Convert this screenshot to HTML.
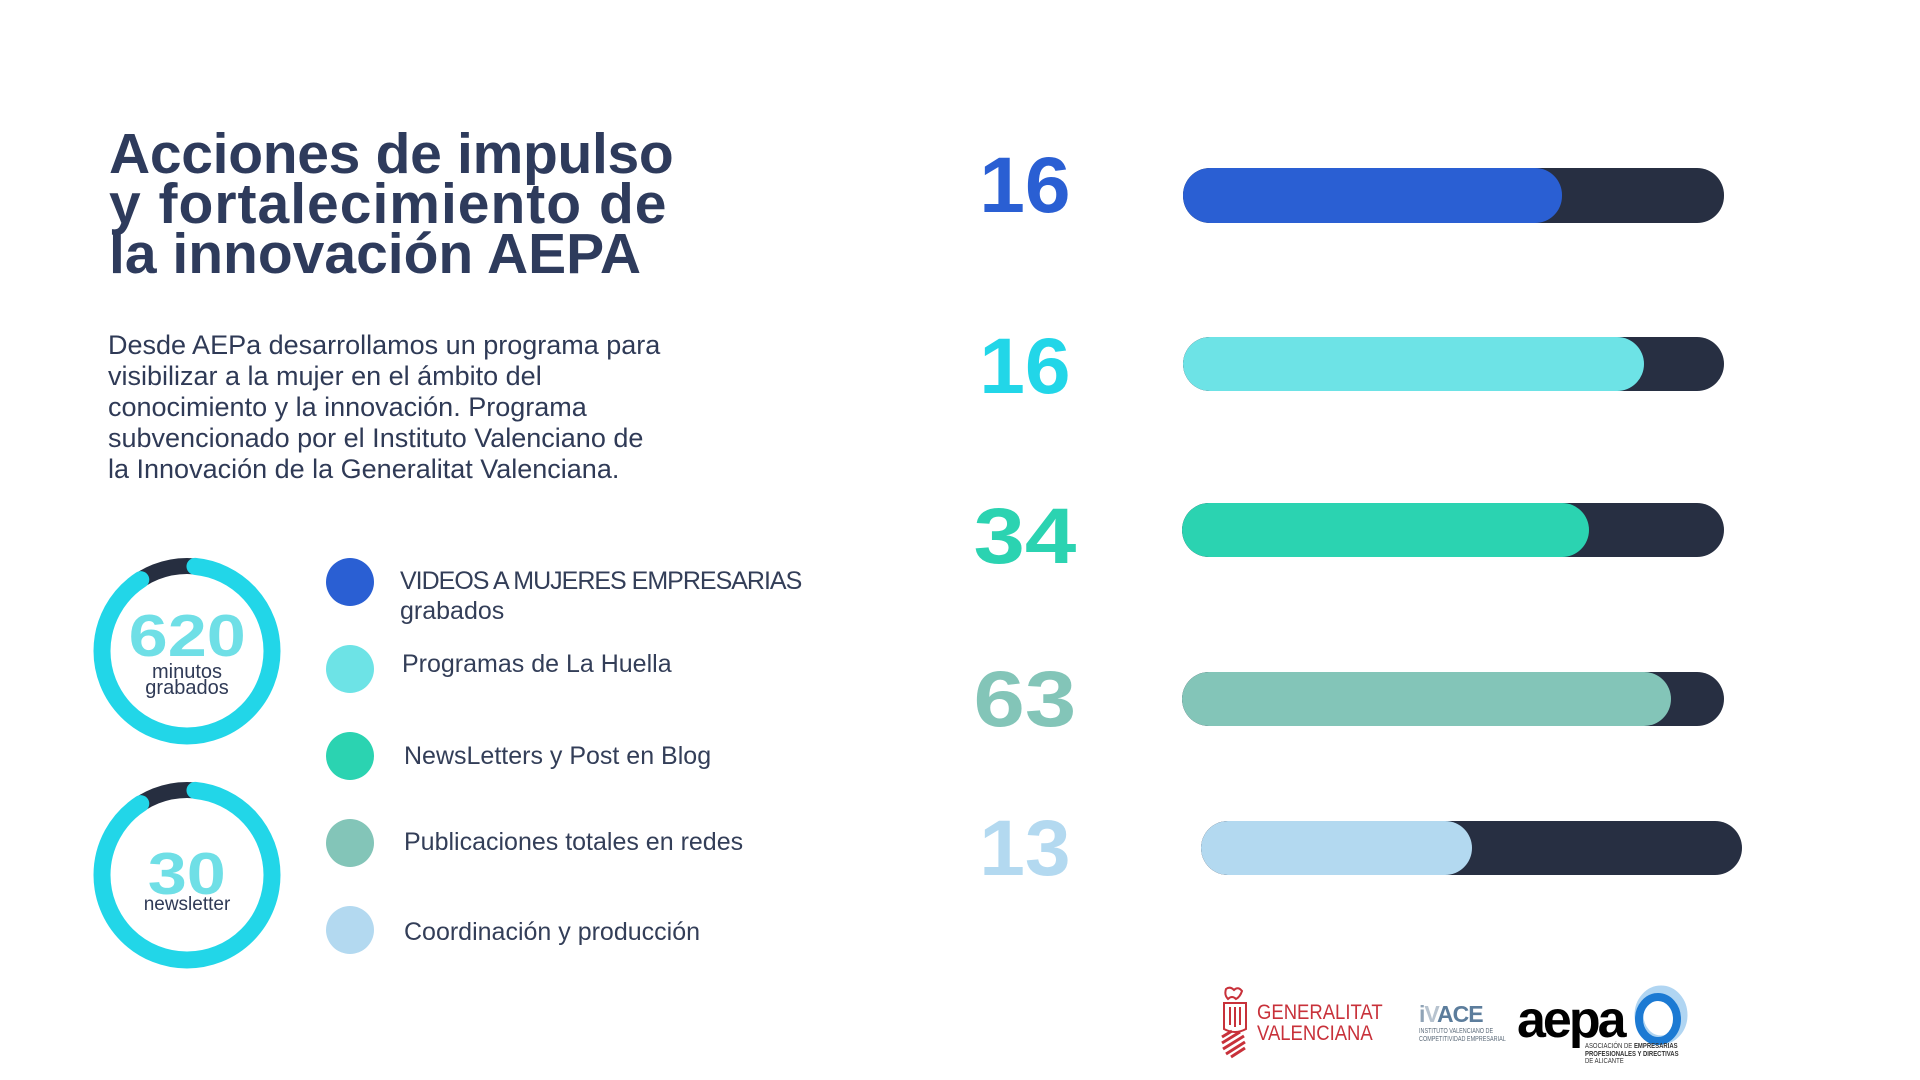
<!DOCTYPE html>
<html>
<head>
<meta charset="utf-8">
<style>
  html,body{margin:0;padding:0;background:#ffffff;}
  body{width:1920px;height:1080px;position:relative;overflow:hidden;font-family:"Liberation Sans",Arial,sans-serif;}
  .abs{position:absolute;white-space:nowrap;}
  .title{left:109px;top:129px;font-size:57px;line-height:50px;font-weight:bold;color:#2e3b5c;}
  .para{left:108px;top:330px;font-size:27px;line-height:31px;color:#2f3a56;}
  .leg{font-size:25px;line-height:30px;color:#333e58;left:402px;}
  .dot{position:absolute;width:48px;height:48px;border-radius:50%;left:326px;}
  .num{position:absolute;width:160px;left:945px;text-align:center;font-size:79px;line-height:79px;font-weight:bold;}
  .num span{display:inline-block;}
  .track{position:absolute;height:54px;border-radius:27px;background:#272f42;overflow:hidden;}
  .fill{position:absolute;left:0;top:0;height:100%;border-radius:27px;}
  .cnum{position:absolute;width:200px;left:87px;text-align:center;font-size:59px;line-height:59px;font-weight:bold;color:#6fdfe6;}
  .cnum span{display:inline-block;transform:scaleX(1.19);}
  .clab{position:absolute;width:200px;left:87px;text-align:center;color:#2f3a56;}
</style>
</head>
<body>

<div class="abs title"><span style="letter-spacing:-0.3px">Acciones de impulso</span><br><span style="letter-spacing:1px">y fortalecimiento de</span><br>la innovación AEPA</div>

<div class="abs para">Desde AEPa desarrollamos un programa para<br>visibilizar a la mujer en el ámbito del<br>conocimiento y la innovación. Programa<br>subvencionado por el Instituto Valenciano de<br>la Innovación de la Generalitat Valenciana.</div>

<!-- Circles -->
<svg class="abs" style="left:0;top:0" width="400" height="1080" viewBox="0 0 400 1080">
  <g transform="rotate(-90 187 651)">
    <circle cx="187" cy="651" r="85" fill="none" stroke="#262e40" stroke-width="16"/>
    <circle cx="187" cy="651" r="85" fill="none" stroke="#22d6e8" stroke-width="17" stroke-linecap="round"
      stroke-dasharray="477 57" stroke-dashoffset="-8"/>
  </g>
  <g transform="rotate(-90 187 875)">
    <circle cx="187" cy="875" r="85" fill="none" stroke="#262e40" stroke-width="16"/>
    <circle cx="187" cy="875" r="85" fill="none" stroke="#22d6e8" stroke-width="17" stroke-linecap="round"
      stroke-dasharray="477 57" stroke-dashoffset="-8"/>
  </g>
</svg>

<div class="cnum" style="top:607px"><span>620</span></div>
<div class="clab" style="top:664px;font-size:20px;line-height:16px;">minutos<br>grabados</div>
<div class="cnum" style="top:845px"><span>30</span></div>
<div class="clab" style="top:895px;font-size:19px;line-height:19px;">newsletter</div>

<!-- Legend -->
<div class="dot" style="top:558px;background:#2a5fd3"></div>
<div class="dot" style="top:645px;background:#6de3e6"></div>
<div class="dot" style="top:732px;background:#2bd3b1"></div>
<div class="dot" style="top:819px;background:#83c5b8"></div>
<div class="dot" style="top:906px;background:#b3d9f0"></div>

<div class="abs leg" style="top:566px;left:400px;"><span style="letter-spacing:-1px">VIDEOS A MUJERES EMPRESARIAS</span><br>grabados</div>
<div class="abs leg" style="top:649px;">Programas de La Huella</div>
<div class="abs leg" style="top:741px;left:404px;">NewsLetters y Post en Blog</div>
<div class="abs leg" style="top:827px;left:404px;">Publicaciones totales en redes</div>
<div class="abs leg" style="top:917px;left:404px;">Coordinación y producción</div>

<!-- Numbers -->
<div class="num" style="top:145px;color:#2a5fd3"><span style="transform:scaleX(1.04)">16</span></div>
<div class="num" style="top:326px;color:#22d6e8"><span style="transform:scaleX(1.04)">16</span></div>
<div class="num" style="top:496px;color:#2bd3b1"><span style="transform:scaleX(1.17)">34</span></div>
<div class="num" style="top:659px;color:#83c5b8"><span style="transform:scaleX(1.17)">63</span></div>
<div class="num" style="top:808px;color:#b3d9f0"><span style="transform:scaleX(1.04)">13</span></div>

<!-- Bars -->
<div class="track" style="left:1183px;top:168px;width:541px;height:55px;"><div class="fill" style="width:379px;background:#2a5fd3"></div></div>
<div class="track" style="left:1183px;top:337px;width:541px;"><div class="fill" style="width:461px;background:#6de3e6"></div></div>
<div class="track" style="left:1182px;top:503px;width:542px;"><div class="fill" style="width:407px;background:#2bd3b1"></div></div>
<div class="track" style="left:1182px;top:672px;width:542px;"><div class="fill" style="width:489px;background:#83c5b8"></div></div>
<div class="track" style="left:1201px;top:821px;width:541px;"><div class="fill" style="width:271px;background:#b3d9f0"></div></div>

<!-- Logos -->
<svg class="abs" style="left:1218px;top:985px" width="34" height="75" viewBox="0 0 34 75">
  <g fill="none" stroke="#c8313a" stroke-width="2">
    <path d="M8 4 Q12 1 16 5 Q20 1 24 6 Q22 12 18 14 Q14 10 10 14 Q6 10 8 4Z"/>
    <path d="M6 18 H28 V44 Q17 50 6 44 Z"/>
    <path d="M12 22 V40 M17 22 V42 M22 22 V40"/>
  </g>
  <g stroke="#c8313a" stroke-width="3">
    <path d="M4 52 L14 46 M4 58 L22 47 M5 64 L26 51 M8 69 L27 57 M13 72 L27 63"/>
  </g>
</svg>
<div class="abs" style="left:1257px;top:1002px;font-size:21px;line-height:21px;color:#c8313a;transform:scaleX(0.88);transform-origin:0 0;">GENERALITAT<br>VALENCIANA</div>

<div class="abs" style="left:1419px;top:1002px;font-size:23px;line-height:24px;font-weight:bold;color:#5c7d9c;letter-spacing:-1px;"><span style="color:#8fa3b6">i</span><span style="color:#b7c3cf">V</span>ACE</div>
<div class="abs" style="left:1419px;top:1028px;font-size:7px;line-height:8px;color:#5c6b7a;transform:scaleX(0.78);transform-origin:0 0;">INSTITUTO VALENCIANO DE<br>COMPETITIVIDAD EMPRESARIAL</div>

<div class="abs" style="left:1517px;top:994px;font-size:52px;line-height:52px;font-weight:bold;color:#000;letter-spacing:-3px;">aepa</div>
<svg class="abs" style="left:1628px;top:985px" width="64" height="64" viewBox="0 0 64 64">
  <ellipse cx="33" cy="30" rx="22" ry="25" fill="none" stroke="#9ccbef" stroke-width="9" opacity="0.8"/>
  <ellipse cx="30" cy="34" rx="19" ry="22" fill="none" stroke="#1c7ad3" stroke-width="8"/>
</svg>
<div class="abs" style="left:1585px;top:1043px;font-size:7px;line-height:7.5px;color:#333;transform:scaleX(0.85);transform-origin:0 0;">ASOCIACIÓN DE <b>EMPRESARIAS</b><br><b>PROFESIONALES Y DIRECTIVAS</b><br>DE ALICANTE</div>

</body>
</html>
